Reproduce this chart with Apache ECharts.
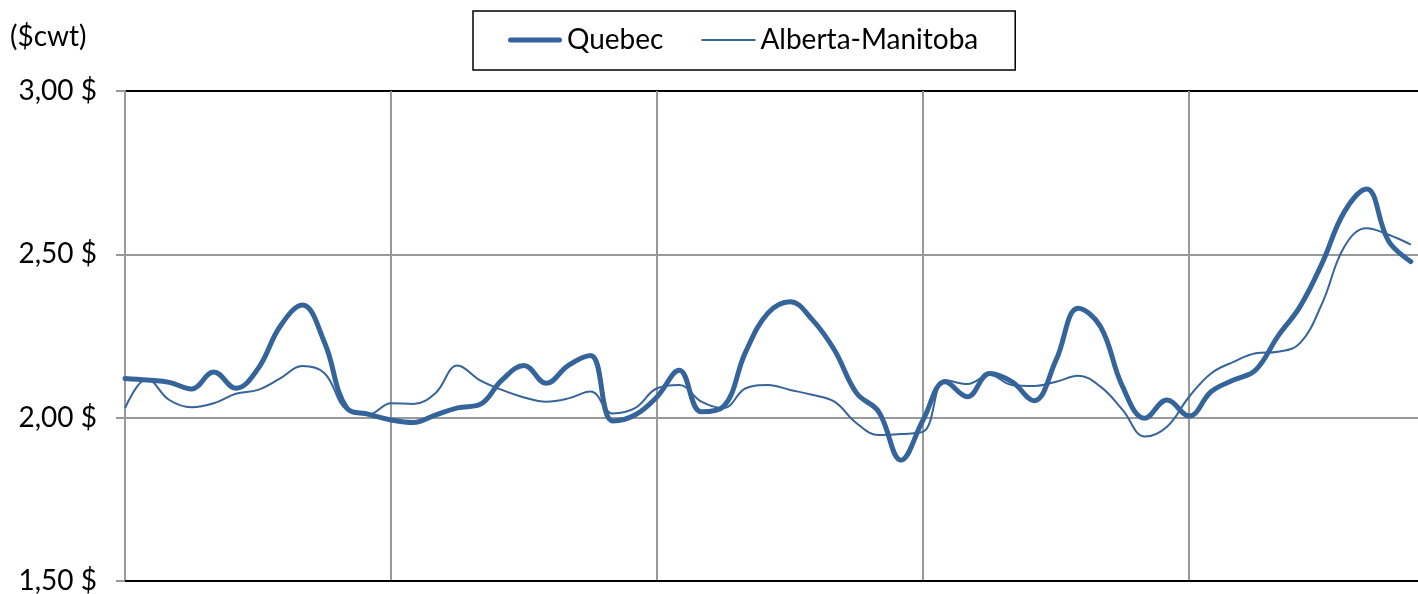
<!DOCTYPE html>
<html>
<head>
<meta charset="utf-8">
<style>
	html, body { margin: 0; padding: 0; background: #fff; }
	#chart { width: 1418px; height: 594px; }
</style>
<script src="https://cdn.jsdelivr.net/npm/echarts@6/dist/echarts.min.js"></script>
</head>
<body>
<div id="chart"></div>
<script>
// monthly periods, 5 years (last month has no value)
var months = [];
for (var y = 1; y <= 5; y++) {
	for (var m = 1; m <= 12; m++) {
		months.push('A' + y + '-M' + m);
	}
}

var quebec = [
	2.12, 2.115, 2.108, 2.088, 2.14, 2.09, 2.15, 2.28, 2.345, 2.23, 2.03, 2.01,
	1.993, 1.985, 2.008, 2.03, 2.04, 2.115, 2.16, 2.105, 2.16, 2.19, 1.99, 2.008,
	2.064, 2.145, 2.018, 2.034, 2.202, 2.32, 2.355, 2.30, 2.207, 2.075, 2.018, 1.87,
	1.993, 2.11, 2.064, 2.135, 2.11, 2.052, 2.177, 2.335, 2.279, 2.095, 1.998, 2.054,
	2.005, 2.08, 2.115, 2.146, 2.249, 2.34, 2.473, 2.63, 2.70, 2.54, 2.478
];

var albertaManitoba = [
	2.029, 2.118, 2.054, 2.032, 2.044, 2.073, 2.085, 2.12, 2.158, 2.136, 2.024, 2.01,
	2.044, 2.042, 2.075, 2.16, 2.115, 2.085, 2.062, 2.049, 2.059, 2.08, 2.013, 2.029,
	2.09, 2.1, 2.049, 2.029, 2.09, 2.1, 2.085, 2.07, 2.049, 1.983, 1.947, 1.95,
	1.957, 2.115, 2.103, 2.131, 2.1, 2.097, 2.11, 2.128, 2.095, 2.024, 1.942, 1.972,
	2.064, 2.136, 2.171, 2.197, 2.202, 2.228, 2.35, 2.523, 2.58, 2.56, 2.53
];

var chart = echarts.init(document.getElementById('chart'));
var lineColor = '#35649a';
var font = 'Lato';

var option = {
	animation: false,
	textStyle: { fontFamily: font },
	graphic: [
		{
			type: 'text',
			left: 10,
			top: 23,
			style: {
				text: '($cwt)',
				font: '28px ' + font,
				fill: '#000'
			}
		}
	],
	legend: {
		left: 473,
		top: 11,
		padding: [15, 37, 16, 35],
		borderColor: '#000',
		borderWidth: 1.5,
		itemWidth: 54,
		itemHeight: 20,
		itemGap: 38,
		textStyle: {
			color: '#000',
			fontSize: 28,
			fontFamily: font
		},
		data: [
			{ name: 'Quebec', icon: 'path://M2.5,0H51.5A2.5,2.5,0,0,1,51.5,5H2.5A2.5,2.5,0,0,1,2.5,0Z' },
			{ name: 'Alberta-Manitoba', icon: 'path://M0,0H54V2H0Z' }
		]
	},
	grid: {
		left: 125,
		top: 91,
		height: 490,
		width: 1308,
		outerBoundsMode: 'none'
	},
	xAxis: {
		type: 'category',
		boundaryGap: false,
		data: months,
		axisLine: { lineStyle: { color: '#000', width: 2 } },
		axisTick: { show: false },
		axisLabel: { show: false },
		splitLine: {
			show: true,
			interval: 11,
			lineStyle: { color: '#999', width: 2 }
		}
	},
	yAxis: {
		type: 'value',
		min: 1.5,
		max: 3,
		interval: 0.5,
		axisLine: { show: true, lineStyle: { color: '#999', width: 2 } },
		axisTick: { show: true, length: 9, lineStyle: { color: '#999', width: 2 } },
		axisLabel: {
			margin: 28,
			color: '#000',
			fontSize: 28,
			fontFamily: font,
			formatter: function (v) {
				return v.toFixed(2).replace('.', ',') + ' $';
			}
		},
		splitLine: {
			lineStyle: { color: ['#000', '#999', '#999', '#000'], width: 2 }
		}
	},
	series: [
		{
			name: 'Quebec',
			type: 'line',
			smooth: 0.4,
			symbol: 'none',
			lineStyle: { color: lineColor, width: 5, cap: 'round' },
			itemStyle: { color: lineColor },
			data: quebec
		},
		{
			name: 'Alberta-Manitoba',
			type: 'line',
			smooth: 0.4,
			symbol: 'none',
			lineStyle: { color: lineColor, width: 2 },
			itemStyle: { color: lineColor },
			data: albertaManitoba
		}
	]
};
chart.setOption(option);
</script>
</body>
</html>
